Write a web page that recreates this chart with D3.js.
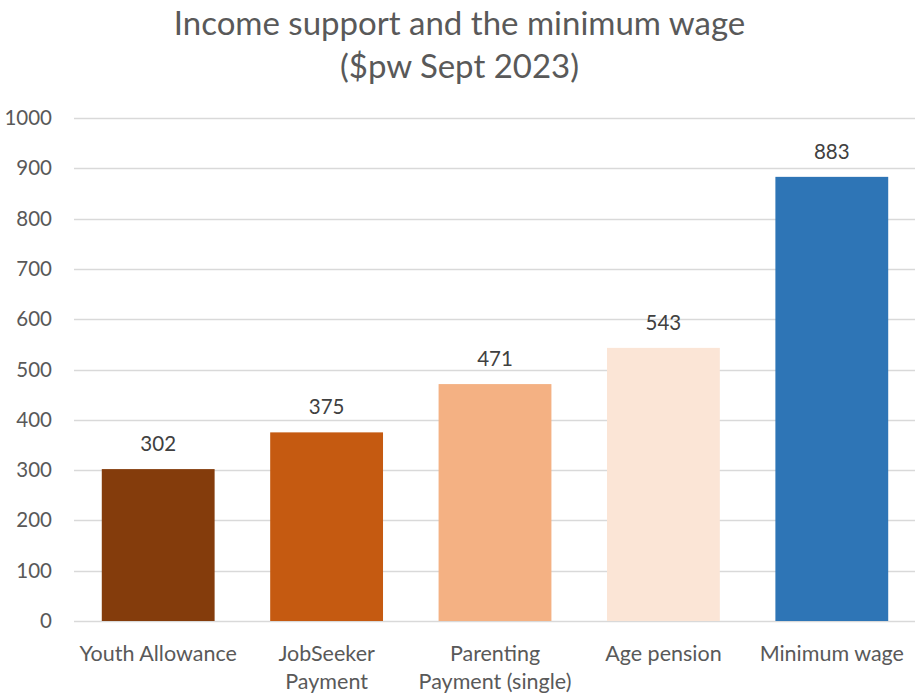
<!DOCTYPE html>
<html>
<head>
<meta charset="utf-8">
<script src="https://cdn.jsdelivr.net/npm/d3@7"></script>
<style>
  body { margin: 0; background: #fff; }
  text { font-family: Lato, "Open Sans", sans-serif; fill: #595959; }
</style>
</head>
<body>
<svg id="chart"></svg>
<script>
var categories = ["Youth Allowance", "JobSeeker Payment", "Parenting Payment (single)", "Age pension", "Minimum wage"];
var labelLines = [["Youth Allowance"], ["JobSeeker", "Payment"], ["Parenting", "Payment (single)"], ["Age pension"], ["Minimum wage"]];
var values = [302, 375, 471, 543, 883];
var barColors = ["#843C0C", "#C55A11", "#F4B183", "#FBE5D6", "#2E75B6"];
var yTicks = [0, 100, 200, 300, 400, 500, 600, 700, 800, 900, 1000];
var titleLines = ["Income support and the minimum wage", "($pw Sept 2023)"];

var W = 915, H = 693;
var margin = {top: 118, right: -1, bottom: 72, left: 74};
var width = W - margin.left - margin.right,
    height = H - margin.top - margin.bottom;

var svg = d3.select("#chart")
    .attr("width", W)
    .attr("height", H);

// title
svg.selectAll(".title")
    .data(titleLines)
    .enter().append("text")
    .attr("class", "title")
    .attr("x", W / 2 + 2)
    .attr("y", function(d, i) { return 35 + i * 43; })
    .attr("text-anchor", "middle")
    .style("font-size", "33px")
    .text(function(d) { return d; });

var g = svg.append("g")
    .attr("transform", "translate(" + margin.left + "," + margin.top + ")");

var x = d3.scaleBand()
    .domain(categories)
    .range([0, width])
    .paddingInner(0.33)
    .paddingOuter(0.165);

var y = d3.scaleLinear()
    .domain([0, 1000])
    .range([height, 0]);

// gridlines
g.append("g")
    .selectAll("line")
    .data(yTicks)
    .enter().append("line")
    .attr("x1", 0)
    .attr("x2", width)
    .attr("y1", function(d) { return Math.round(y(d)) + 0.5; })
    .attr("y2", function(d) { return Math.round(y(d)) + 0.5; })
    .attr("stroke", "#D9D9D9")
    .attr("stroke-width", 1.5);

// y axis labels
var yAxis = d3.axisLeft(y).tickValues(yTicks).tickFormat(d3.format("d")).tickSize(0).tickPadding(22);
var yg = g.append("g").call(yAxis);
yg.select(".domain").remove();
yg.selectAll("text")
    .style("font-size", "20.5px")
    .style("fill", "#595959")
    .style("font-family", "Lato, 'Open Sans', sans-serif");

// bars
g.selectAll(".bar")
    .data(values)
    .enter().append("rect")
    .attr("class", "bar")
    .attr("x", function(d, i) { return x(categories[i]); })
    .attr("width", x.bandwidth())
    .attr("y", function(d) { return y(d); })
    .attr("height", function(d) { return height - y(d); })
    .attr("fill", function(d, i) { return barColors[i]; });

// value labels
g.selectAll(".val")
    .data(values)
    .enter().append("text")
    .attr("class", "val")
    .attr("x", function(d, i) { return x(categories[i]) + x.bandwidth() / 2; })
    .attr("y", function(d) { return y(d) - 18; })
    .attr("text-anchor", "middle")
    .style("font-size", "20.5px")
    .style("fill", "#404040")
    .text(function(d) { return d; });

// category labels
var cat = g.selectAll(".cat")
    .data(categories)
    .enter().append("text")
    .attr("class", "cat")
    .attr("text-anchor", "middle")
    .attr("transform", function(d) { return "translate(" + (x(d) + x.bandwidth() / 2) + "," + (height + 40) + ")"; })
    .style("font-size", "21.5px");

cat.selectAll("tspan")
    .data(function(d, i) { return labelLines[i]; })
    .enter().append("tspan")
    .attr("x", 0)
    .attr("dy", function(d, i) { return i === 0 ? 0 : 27.5; })
    .text(function(d) { return d; });
</script>
</body>
</html>
